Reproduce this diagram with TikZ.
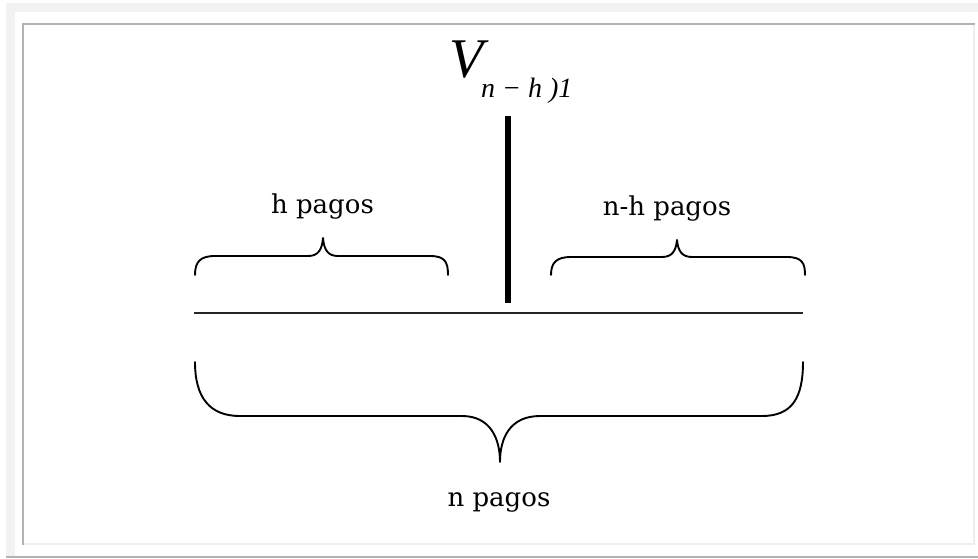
\documentclass[tikz,border=0pt]{standalone}
\usepackage{fontspec}
\setmainfont{DejaVu Serif}
\newfontfamily\timesfont{Liberation Serif}
\begin{document}
\begin{tikzpicture}[x=1pt,y=-1pt,
  lbl/.style={inner sep=0pt,anchor=base,font=\fontsize{26}{26}\selectfont},
  bracepath/.style={line width=1.9pt,black,line cap=round,line join=round}]
\useasboundingbox (0,0) rectangle (978,558);
% frame
\definecolor{bandgray}{HTML}{F2F2F2}
\definecolor{framegray}{HTML}{B3B3B3}
\definecolor{lightframe}{HTML}{EEEEEE}
\fill[bandgray] (6,3) rectangle (978,12);
\fill[bandgray] (6,3) rectangle (15,558);
\fill[framegray] (6,555.5) rectangle (978,558);
\fill[framegray] (22,23) rectangle (975,25);
\fill[framegray] (22,23) rectangle (24,545);
\fill[lightframe] (24,543) rectangle (975,545);
\fill[lightframe] (973,25) rectangle (975,545);
% title
\node[inner sep=0pt,anchor=base west,font=\timesfont\fontsize{56}{56}\selectfont\itshape] (V) at (449,77) {V};
\node[inner sep=0pt,anchor=base west,font=\timesfont\fontsize{28}{28}\selectfont\itshape] (sub) at (481,97) {n − h )1};
% timeline
\coordinate (tl) at (194,313);
\coordinate (tr) at (803,313);
\draw[line width=2.2pt,black!85] (tl) -- (tr);
\coordinate (bt) at (508,116);
\coordinate (bb) at (508,303);
\draw[line width=6.5pt,black] (bt) -- (bb);
% top-left brace
\draw[bracepath] (195,275) .. controls (195,262) and (200,256) .. (215,256) -- (308,256)
  .. controls (318,256) and (322,250) .. (323,238)
  .. controls (324,250) and (328,256) .. (338,256) -- (430,256)
  .. controls (445,256) and (448,262) .. (448,275);
% top-right brace
\draw[bracepath] (551,275) .. controls (551,263) and (556,257) .. (571,257) -- (662,257)
  .. controls (672,257) and (676,251) .. (677,240)
  .. controls (678,251) and (682,257) .. (692,257) -- (787,257)
  .. controls (802,257) and (805,263) .. (805,275);
% bottom brace
\draw[bracepath] (195,362) .. controls (195,398) and (210,416) .. (240,416) -- (462,416)
  .. controls (490,416) and (500,438) .. (500,462)
  .. controls (500,438) and (510,416) .. (540,416) -- (762,416)
  .. controls (792,416) and (803,398) .. (803,362);
% labels
\node[lbl] (hp) at (322.5,213) {h pagos};
\node[lbl] (nhp) at (667,215) {n-h pagos};
\node[lbl] (np) at (499,506) {n pagos};
\end{tikzpicture}
\end{document}
